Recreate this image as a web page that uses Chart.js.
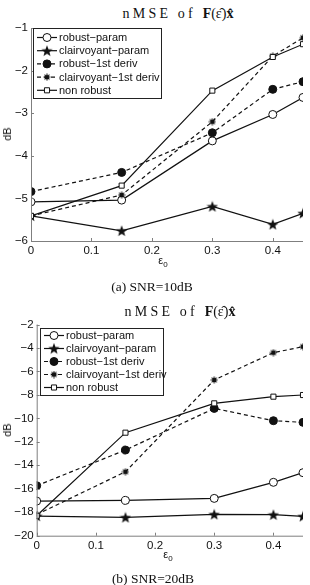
<!DOCTYPE html>
<html>
<head>
<meta charset="utf-8">
<script src="https://cdn.jsdelivr.net/npm/chart.js@4"></script>
<style>
  body { margin: 0; background: #fff; width: 310px; height: 585px; position: relative; overflow: hidden; }
  canvas { position: absolute; left: 0; }
  .txt { position: absolute; white-space: nowrap; transform: translate(-50%, -50%); color: #111; }
  .title { font-family: "Liberation Serif", "DejaVu Serif", serif; font-size: 14px; }
  .title .sp { letter-spacing: 3.2px; }
  .cap { font-family: "Liberation Serif", "DejaVu Serif", serif; font-size: 13.5px; }
  .axl { font-family: "Liberation Sans", Arial, sans-serif; font-size: 11px; }
  .ylab { transform: translate(-50%, -50%) rotate(-90deg); }
  sub { font-size: 8px; vertical-align: -3px; }
</style>
</head>
<body>
<div class="txt title" style="left:178px; top:14px"><span class="sp">nMSE of </span><b>F</b>(ε̂)<b>x̂</b></div>
<canvas id="chart10" width="310" height="270" style="top:0"></canvas>
<div class="txt axl ylab" style="left:7px; top:134px">dB</div>
<div class="txt axl" style="left:163px; top:261px">ε<sub>0</sub></div>
<div class="txt cap" style="left:152px; top:287px">(a) SNR=10dB</div>

<div class="txt title" style="left:180px; top:312px"><span class="sp">nMSE of </span><b>F</b>(ε̂)<b>x̂</b></div>
<canvas id="chart20" width="310" height="270" style="top:295px"></canvas>
<div class="txt axl ylab" style="left:7px; top:430px">dB</div>
<div class="txt axl" style="left:168px; top:555px">ε<sub>0</sub></div>
<div class="txt cap" style="left:153px; top:579px">(b) SNR=20dB</div>

<script>
const epsValues = [0, 0.15, 0.3, 0.4, 0.45];
const xTicks = [0, 0.1, 0.2, 0.3, 0.4];
const seriesNames = ["robust−param", "clairvoyant−param", "robust−1st deriv", "clairvoyant−1st deriv", "non robust"];

// SNR = 10 dB
const robustParam10 = [-5.08, -5.04, -3.65, -3.03, -2.63];
const clairParam10 = [-5.41, -5.76, -5.19, -5.61, -5.35];
const robustDeriv10 = [-4.84, -4.39, -3.46, -2.44, -2.26];
const clairDeriv10 = [-5.41, -4.92, -3.20, -1.66, -1.23];
const nonRobust10 = [-5.41, -4.70, -2.47, -1.68, -1.38];
const yTicks10 = [-6, -5, -4, -3, -2, -1];

// SNR = 20 dB
const robustParam20 = [-17.05, -16.99, -16.82, -15.45, -14.63];
const clairParam20 = [-18.33, -18.44, -18.18, -18.21, -18.35];
const robustDeriv20 = [-15.74, -12.70, -9.15, -10.20, -10.34];
const clairDeriv20 = [-18.20, -14.55, -6.73, -4.40, -3.89];
const nonRobust20 = [-18.30, -11.22, -8.72, -8.15, -8.01];
const yTicks20 = [-20, -18, -16, -14, -12, -10, -8, -6, -4, -2];

const INK = "#111";
const AXIS = "#7f7f7f";
const FONT = "'Liberation Sans', Arial, sans-serif";

// filled five point star used as a marker
function starMarker(size) {
  const c = document.createElement("canvas");
  c.width = size;
  c.height = size;
  const g = c.getContext("2d");
  const r = size / 2, ri = r * 0.42;
  g.beginPath();
  for (let i = 0; i < 10; i++) {
    const rad = i % 2 ? ri : r;
    const a = -Math.PI / 2 + i * Math.PI / 5;
    g.lineTo(r + rad * Math.cos(a), r + 0.5 + rad * Math.sin(a));
  }
  g.closePath();
  g.fillStyle = INK;
  g.fill();
  return c;
}

// small asterisk with a dark core, like matlab's '*' at this size
function asteriskMarker(size) {
  const c = document.createElement("canvas");
  c.width = size;
  c.height = size;
  const g = c.getContext("2d");
  const r = size / 2;
  g.strokeStyle = INK;
  g.lineWidth = 1.1;
  g.beginPath();
  for (let i = 0; i < 4; i++) {
    const a = i * Math.PI / 4;
    g.moveTo(r - (r - 0.5) * Math.cos(a), r - (r - 0.5) * Math.sin(a));
    g.lineTo(r + (r - 0.5) * Math.cos(a), r + (r - 0.5) * Math.sin(a));
  }
  g.stroke();
  g.beginPath();
  g.arc(r, r, r * 0.5, 0, Math.PI * 2);
  g.fillStyle = INK;
  g.fill();
  return c;
}

const star = starMarker(12);
const asterisk = asteriskMarker(8);

const styles = [
  { pointStyle: "circle", pointRadius: 4, pointBackgroundColor: "#fff", dash: [] },
  { pointStyle: star, pointRadius: 6, pointBackgroundColor: INK, dash: [] },
  { pointStyle: "circle", pointRadius: 4, pointBackgroundColor: INK, dash: [4, 3] },
  { pointStyle: asterisk, pointRadius: 4, pointBackgroundColor: INK, dash: [4, 3] },
  { pointStyle: "rect", pointRadius: 3.6, pointBackgroundColor: "#fff", dash: [] },
];

const axesPlugin = {
  id: "matlabAxes",
  afterDatasetsDraw(chart) {
    const { ctx, chartArea: a, scales: { x, y } } = chart;
    ctx.save();
    ctx.strokeStyle = AXIS;
    ctx.lineWidth = 1;
    ctx.beginPath();
    ctx.moveTo(a.left + 0.5, a.top);
    ctx.lineTo(a.left + 0.5, a.bottom + 0.5);
    ctx.lineTo(a.right, a.bottom + 0.5);
    for (const v of xTicks) {
      const px = Math.round(x.getPixelForValue(v)) + 0.5;
      ctx.moveTo(px, a.bottom);
      ctx.lineTo(px, a.bottom - 3);
    }
    for (const t of y.ticks) {
      const py = Math.round(y.getPixelForValue(t.value)) + 0.5;
      ctx.moveTo(a.left, py);
      ctx.lineTo(a.left + 3, py);
    }
    ctx.stroke();
    ctx.restore();
  },
};

const legendPlugin = {
  id: "boxLegend",
  afterDraw(chart, args, opts) {
    const { ctx } = chart;
    const b = opts.box;
    ctx.save();
    ctx.fillStyle = "#fff";
    ctx.fillRect(b.x, b.y, b.w, b.h);
    ctx.strokeStyle = "#222";
    ctx.lineWidth = 1;
    ctx.strokeRect(b.x + 0.5, b.y + 0.5, b.w, b.h);
    ctx.font = "11px " + FONT;
    ctx.textBaseline = "middle";
    chart.data.datasets.forEach((ds, i) => {
      const yy = b.y + opts.first + i * opts.step;
      const x0 = b.x + 4;
      ctx.strokeStyle = INK;
      ctx.lineWidth = 1.2;
      ctx.setLineDash(ds.borderDash || []);
      ctx.beginPath();
      ctx.moveTo(x0, yy);
      ctx.lineTo(x0 + 20, yy);
      ctx.stroke();
      ctx.setLineDash([]);
      ctx.fillStyle = ds.pointBackgroundColor;
      ctx.strokeStyle = INK;
      ctx.lineWidth = ds.pointBorderWidth;
      Chart.helpers.drawPoint(ctx, { pointStyle: ds.pointStyle, radius: ds.pointRadius, rotation: 0, borderWidth: ds.pointBorderWidth }, x0 + 10, yy);
      ctx.fillStyle = INK;
      ctx.fillText(ds.label, x0 + 22, yy + 0.5);
    });
    ctx.restore();
  },
};

function buildChart(id, series, yTicks, pad, box) {
  const datasets = series.map((data, i) => ({
    label: seriesNames[i],
    data: epsValues.map((e, k) => ({ x: e, y: data[k] })),
    borderColor: INK,
    borderWidth: 1.2,
    borderDash: styles[i].dash,
    pointStyle: styles[i].pointStyle,
    pointRadius: styles[i].pointRadius,
    pointBackgroundColor: styles[i].pointBackgroundColor,
    pointBorderColor: INK,
    pointBorderWidth: 1,
    order: series.length - i,
    tension: 0,
    fill: false,
  }));
  const noGrid = { display: false, drawTicks: false, tickLength: 0 };
  return new Chart(document.getElementById(id), {
    type: "line",
    data: { datasets },
    plugins: [axesPlugin, legendPlugin],
    options: {
      responsive: false,
      animation: false,
      devicePixelRatio: 1,
      layout: { padding: { top: pad.top, right: pad.right, left: 0, bottom: 0 } },
      plugins: {
        legend: { display: false },
        tooltip: { enabled: false },
        boxLegend: box,
      },
      scales: {
        x: {
          type: "linear",
          min: 0,
          max: 0.45,
          afterBuildTicks: (s) => { s.ticks = xTicks.map((v) => ({ value: v })); },
          afterFit: (s) => { s.height = pad.bottom; },
          grid: noGrid,
          border: { display: false },
          ticks: { color: INK, padding: 3, autoSkip: false, maxRotation: 0, font: { family: FONT, size: 11.5 }, callback: (v) => String(v) },
        },
        y: {
          type: "linear",
          min: yTicks[0],
          max: yTicks[yTicks.length - 1],
          afterBuildTicks: (s) => { s.ticks = yTicks.map((v) => ({ value: v })); },
          afterFit: (s) => { s.width = pad.left; },
          grid: noGrid,
          border: { display: false },
          ticks: { color: INK, padding: 3, autoSkip: false, font: { family: FONT, size: 11.5 }, callback: (v) => String(v).replace("-", "−") },
        },
      },
    },
  });
}

buildChart("chart10",
  [robustParam10, clairParam10, robustDeriv10, clairDeriv10, nonRobust10],
  yTicks10,
  { top: 28, right: 5, bottom: 29, left: 31 },
  { box: { x: 33, y: 28, w: 128, h: 70 }, first: 9.5, step: 13.2 });

buildChart("chart20",
  [robustParam20, clairParam20, robustDeriv20, clairDeriv20, nonRobust20],
  yTicks20,
  { top: 29.5, right: 4, bottom: 29.3, left: 36.7 },
  { box: { x: 40, y: 33, w: 123, h: 67 }, first: 7.5, step: 13 });
</script>
</body>
</html>
